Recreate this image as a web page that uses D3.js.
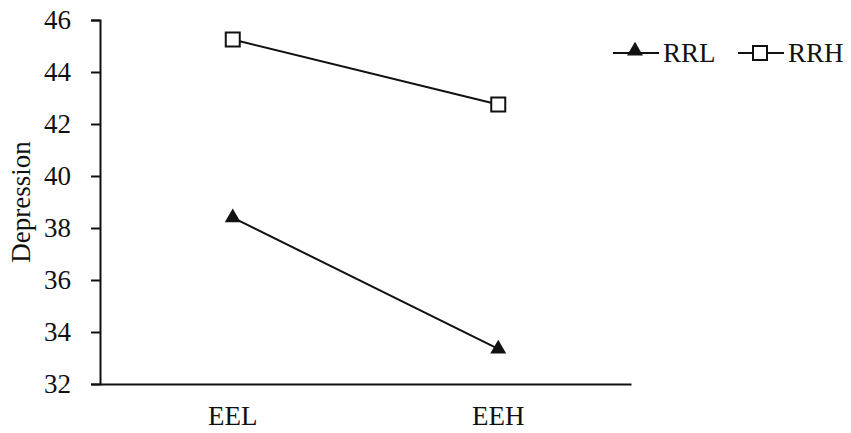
<!DOCTYPE html>
<html>
<head>
<meta charset="utf-8">
<script src="https://cdn.jsdelivr.net/npm/d3@7"></script>
<style>
  body { margin: 0; background: #fff; }
  text { font-family: "Liberation Serif", "Times New Roman", serif; fill: #111; }
</style>
</head>
<body>
<svg id="chart" width="851" height="433"></svg>
<script>
const categories = ['EEL', 'EEH'];
const rrl = [38.4, 33.35];
const rrh = [45.25, 42.75];
const yTicks = [32, 34, 36, 38, 40, 42, 44, 46];

const svg = d3.select('#chart');
const margin = {left: 100, right: 220, top: 20, bottom: 49};
const width = 851, height = 433;
const fs = 27;

const x = d3.scaleBand().domain(categories).range([margin.left, width - margin.right]);
const y = d3.scaleLinear().domain([32, 46]).range([height - margin.bottom, margin.top]);

// y axis
const yAxis = svg.append('g')
    .attr('transform', `translate(${margin.left},0)`)
    .call(d3.axisLeft(y).tickValues(yTicks).tickSize(9).tickPadding(20).tickFormat(d3.format('d')));
yAxis.select('.domain').attr('stroke', '#111').attr('stroke-width', 2);
yAxis.selectAll('.tick line').attr('stroke', '#111').attr('stroke-width', 2);
yAxis.selectAll('.tick text').attr('font-size', fs).attr('fill', '#111')
    .style('font-family', '"Liberation Serif", serif');

// x axis
const xAxis = svg.append('g')
    .attr('transform', `translate(0,${height - margin.bottom})`)
    .call(d3.axisBottom(x).tickSize(0).tickPadding(22));
xAxis.select('.domain').attr('stroke', '#111').attr('stroke-width', 2);
xAxis.selectAll('.tick text').attr('font-size', fs).attr('fill', '#111')
    .style('font-family', '"Liberation Serif", serif');

svg.append('text')
    .attr('transform', `translate(30,${(margin.top + height - margin.bottom) / 2}) rotate(-90)`)
    .attr('text-anchor', 'middle')
    .attr('font-size', fs)
    .text('Depression');

const line = d3.line()
    .x((d, i) => x(categories[i]) + x.bandwidth() / 2)
    .y(d => y(d));

const tri = d3.symbol().type(d3.symbolTriangle).size(110);

function drawSeries(vals, kind) {
  svg.append('path').datum(vals)
      .attr('d', line).attr('fill', 'none').attr('stroke', '#111').attr('stroke-width', 2);
  vals.forEach((v, i) => {
    const cx = x(categories[i]) + x.bandwidth() / 2, cy = y(v);
    if (kind === 'tri') {
      svg.append('path').attr('d', tri).attr('transform', `translate(${cx},${cy})`).attr('fill', '#111');
    } else {
      svg.append('rect').attr('x', cx - 7).attr('y', cy - 7).attr('width', 14).attr('height', 14)
          .attr('fill', '#fff').attr('stroke', '#111').attr('stroke-width', 2);
    }
  });
}
drawSeries(rrl, 'tri');
drawSeries(rrh, 'sq');

// legend
const legend = [{name: 'RRL', kind: 'tri', x: 613}, {name: 'RRH', kind: 'sq', x: 738}];
legend.forEach(l => {
  const g = svg.append('g').attr('transform', `translate(${l.x},53)`);
  g.append('line').attr('x1', 0).attr('x2', 46).attr('stroke', '#111').attr('stroke-width', 2);
  if (l.kind === 'tri') {
    g.append('path').attr('d', tri).attr('transform', 'translate(22,-2)').attr('fill', '#111');
  } else {
    g.append('rect').attr('x', 15).attr('y', -7).attr('width', 14).attr('height', 14)
        .attr('fill', '#fff').attr('stroke', '#111').attr('stroke-width', 2);
  }
  g.append('text').attr('x', 50).attr('y', 9).attr('font-size', fs).text(l.name);
});
</script>
</body>
</html>
